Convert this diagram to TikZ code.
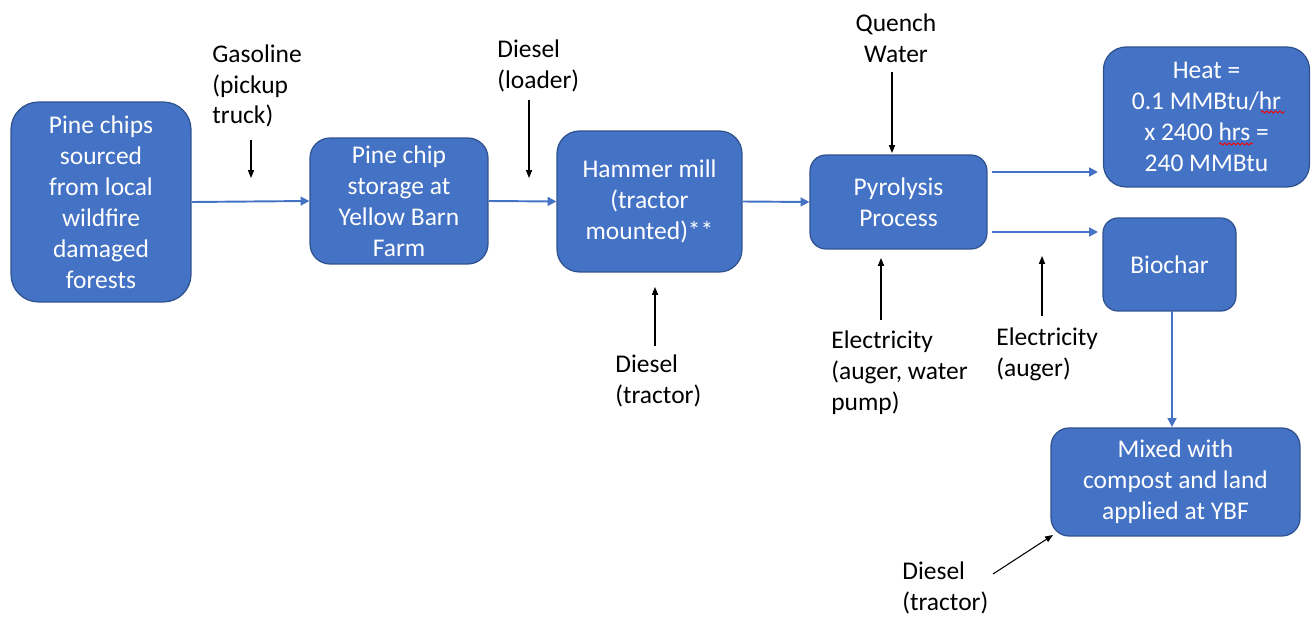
\documentclass[tikz,border=0pt]{standalone}
\usepackage{fontspec}
\setmainfont{Carlito}
\usetikzlibrary{arrows.meta,decorations.pathmorphing}
\definecolor{boxblue}{HTML}{4472C4}
\definecolor{boxedge}{HTML}{2F528F}
\begin{document}
\begin{tikzpicture}[x=0.02cm,y=-0.02cm, font=\fontsize{14.5}{17.6}\selectfont,
 proc/.style={draw=boxedge, line width=0.7pt, fill=boxblue, text=white, align=center, inner sep=0pt},
 flow/.style={draw=boxblue, line width=1.1pt, -{Triangle[length=5pt,width=5pt]}},
 inp/.style={draw=black, line width=0.6pt, -{Triangle[length=4.5pt,width=3.5pt]}},
 lbl/.style={align=left, anchor=west, inner sep=0pt},
 squig/.style={draw=red, line width=0.5pt, decorate, decoration={snake, amplitude=0.6pt, segment length=2.5pt}}]
\useasboundingbox (0,0) rectangle (1312,618);
% process boxes
\node[proc, minimum width=3.6cm, minimum height=4cm, rounded corners=0.55cm] (p1) at (101,202) {Pine chips\\sourced\\from local\\wildfire\\damaged\\forests};
\node[proc, minimum width=3.56cm, minimum height=2.52cm, rounded corners=0.4cm] (p2) at (399,201) {Pine chip\\storage at\\Yellow Barn\\Farm};
\node[proc, minimum width=3.7cm, minimum height=2.82cm, rounded corners=0.45cm] (p3) at (649.5,201.5) {Hammer mill\\(tractor\\mounted)**};
\node[proc, minimum width=3.54cm, minimum height=1.88cm, rounded corners=0.32cm] (p4) at (898.5,202) {Pyrolysis\\Process};
\node[proc, minimum width=4.12cm, minimum height=2.8cm, rounded corners=0.45cm] (p5) at (1206.5,117) {Heat =\\0.1 MMBtu/hr\\x 2400 hrs =\\240 MMBtu};
\node[proc, minimum width=2.66cm, minimum height=1.86cm, rounded corners=0.3cm] (p6) at (1169.5,264.5) {Biochar};
\node[proc, minimum width=4.98cm, minimum height=2.16cm, rounded corners=0.36cm] (p7) at (1175.5,482) {Mixed with\\compost and land\\applied at YBF};
% spell-check marks
\draw[squig] (1261,112) -- (1285,112);
\draw[squig] (1219,144) -- (1253,144);
% main flow
\draw[flow] (p1.east) -- (p2.west);
\draw[flow] (p2.east) -- (p3.west);
\draw[flow] (p3.east) -- (p4.west);
\coordinate (h0) at (992,172); \coordinate (h1) at (1098,172);
\draw[flow] (h0) -- (h1);
\coordinate (b0) at (992,232); \coordinate (b1) at (1098,232);
\draw[flow] (b0) -- (b1);
\coordinate (m0) at (1172,311); \coordinate (m1) at (1172,427);
\draw[flow] (m0) -- (m1);
% inputs
\node[lbl] (g) at (212,86) {Gasoline\\(pickup\\truck)};
\coordinate (g0) at (251,140); \coordinate (g1) at (251,178);
\draw[inp] (g0) -- (g1);
\node[lbl] (dl) at (497,66) {Diesel\\(loader)};
\coordinate (dl0) at (529,100); \coordinate (dl1) at (529,178);
\draw[inp] (dl0) -- (dl1);
\node[align=center, inner sep=0pt] (qw) at (896,38) {Quench\\Water};
\coordinate (q0) at (892,72); \coordinate (q1) at (892,153);
\draw[inp] (q0) -- (q1);
\node[lbl] (dt) at (615,381) {Diesel\\(tractor)};
\coordinate (dt0) at (655,346); \coordinate (dt1) at (655,287);
\draw[inp] (dt0) -- (dt1);
\node[lbl] (ea) at (831,373) {Electricity\\(auger, water\\pump)};
\coordinate (ea0) at (881,320); \coordinate (ea1) at (881,258);
\draw[inp] (ea0) -- (ea1);
\node[lbl] (eb) at (996,354) {Electricity\\(auger)};
\coordinate (eb0) at (1042,316); \coordinate (eb1) at (1042,256);
\draw[inp] (eb0) -- (eb1);
\node[lbl] (db) at (902,588) {Diesel\\(tractor)};
\coordinate (db0) at (993,574); \coordinate (db1) at (1053,535);
\draw[inp] (db0) -- (db1);
\end{tikzpicture}
\end{document}
